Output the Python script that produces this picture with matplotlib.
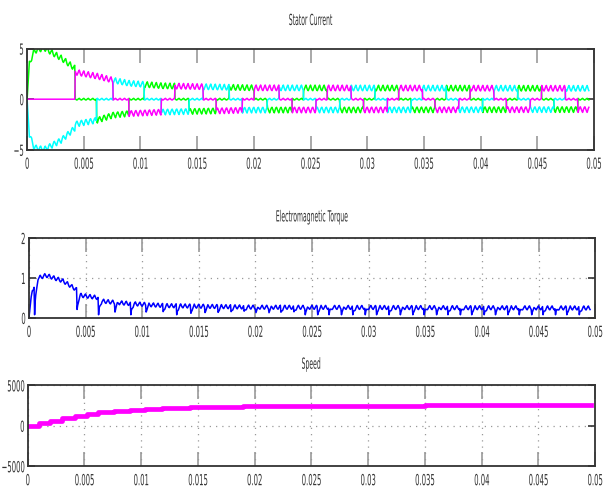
import matplotlib
matplotlib.use("Agg")
import matplotlib.pyplot as plt
import numpy as np
from matplotlib.patheffects import AbstractPathEffect
from matplotlib.transforms import Affine2D

plt.rcParams['font.family'] = ['DejaVu Sans']

# commutation instants (s)
comm_t = [0.0, 0.00423, 0.00615, 0.00758, 0.00900, 0.01032, 0.01182, 0.01305,
          0.01429, 0.01552, 0.01667, 0.01781, 0.01896, 0.02002, 0.02116, 0.02222,
          0.02337, 0.0244, 0.0255, 0.0265, 0.0276, 0.0286, 0.0297, 0.0307,
          0.0318, 0.0328, 0.0339, 0.0349, 0.0360, 0.0370, 0.0381, 0.0391,
          0.0402, 0.0412, 0.0423, 0.0433, 0.0444, 0.0454, 0.0465, 0.0475,
          0.0486, 0.0496]
# conducting phases per segment: (positive phase, negative phase); 0=A 1=B 2=C
phase_seq = [(0, 2), (1, 2), (1, 0), (2, 0), (2, 1), (0, 1)]

# current envelope (A)
env_t = [0.0, 0.0002, 0.0006, 0.0015, 0.0030, 0.0042, 0.00425, 0.0062, 0.0076,
         0.0090, 0.0120, 0.0200, 0.0500]
env_top = [0.0, 3.2, 4.5, 4.8, 3.8, 2.8, 2.4, 2.0, 1.6, 1.3, 1.05, 0.85, 0.8]
env_bot = [0.0, -3.2, -4.5, -4.7, -3.8, -2.6, -2.2, -1.8, -1.3, -1.15, -1.0, -0.8, -0.75]
# chopping ripple, one sample every 0.05 ms
ripple = [0.0, 0.15, 0.30, 0.45, 0.55, 0.35, 0.18, 0.05]
sample_dt = 0.00005

# electromagnetic torque envelope (N.m) and dip depth at commutations
torque_t = [0.0, 0.0003, 0.0008, 0.0015, 0.0030, 0.0042, 0.00425, 0.0061, 0.00625,
            0.0076, 0.0090, 0.0120, 0.0200, 0.0500]
torque_v = [0.0, 0.65, 0.95, 1.02, 0.88, 0.66, 0.53, 0.46, 0.38, 0.34, 0.31, 0.26, 0.22, 0.2]
torque_dip = 0.08
dip_width = 0.0003

# rotor speed (rpm), stair trace
speed_t = [0.0, 0.001, 0.002, 0.003, 0.0042, 0.0052, 0.0062, 0.0076, 0.0090, 0.0103,
           0.0118, 0.0143, 0.0167, 0.0190, 0.0234, 0.0350, 0.0496]
speed_v = [0, 300, 650, 950, 1250, 1450, 1650, 1800, 1950, 2080, 2180, 2270, 2340,
           2400, 2470, 2620, 2620]

xticks = [0, 0.005, 0.01, 0.015, 0.02, 0.025, 0.03, 0.035, 0.04, 0.045, 0.05]
xticklabels = ['0', '0.005', '0.01', '0.015', '0.02', '0.025', '0.03', '0.035',
               '0.04', '0.045', '0.05']


class Squeeze(AbstractPathEffect):
    # narrow the glyphs horizontally, like the resized MATLAB export
    def __init__(self, sx=0.45, anchor='center'):
        super().__init__()
        self.sx = sx
        self.anchor = anchor

    def draw_path(self, renderer, gc, tpath, affine, rgbFace=None):
        ext = tpath.get_extents(affine)
        cx = ext.x1 if self.anchor == 'right' else (ext.x0 + ext.x1) / 2
        tr = affine + Affine2D().translate(-cx, 0).scale(self.sx, 1).translate(cx, 0)
        renderer.draw_path(gc, tpath, tr, rgbFace)


# build the sampled traces
t = np.arange(0, comm_t[-1], sample_dt)
rip = np.array(ripple)[np.arange(len(t)) % len(ripple)]
top = np.interp(t, env_t, env_top)
bot = np.interp(t, env_t, env_bot)
seg = np.searchsorted(comm_t, t, side='right') - 1
currents = np.zeros((3, len(t)))
for k in range(len(t)):
    pos, neg = phase_seq[seg[k] % 6]
    for p in range(3):
        if p == pos:
            currents[p, k] = top[k] + rip[k]
        elif p == neg:
            currents[p, k] = bot[k] - rip[k]
        else:
            currents[p, k] = 0.3 * rip[k] - 0.08 if t[k] > comm_t[1] else 0.0

torque = np.interp(t, torque_t, torque_v) + 0.18 * rip
for tc in comm_t[1:-1] + [0.0005]:
    m = (t >= tc) & (t < tc + dip_width)
    frac = (t[m] - tc) / dip_width
    torque[m] = torque_dip + (torque[m] - torque_dip) * np.sqrt(frac)

fig = plt.figure(figsize=(6.03, 4.96), dpi=100)
ax1 = fig.add_axes([0.045, 0.698, 0.940, 0.204])
ax2 = fig.add_axes([0.048, 0.359, 0.939, 0.161])
ax3 = fig.add_axes([0.046, 0.060, 0.941, 0.163])

colors = ['#00ff00', '#ff00ff', '#00ffff']
for p in [0, 2, 1]:
    ax1.plot(t, currents[p], color=colors[p], lw=1.1)
ax2.plot(t, torque, color='#0000ff', lw=1.1)
ax3.plot(speed_t, speed_v, color='#ff00ff', lw=3.4, drawstyle='steps-post')

ax1.set_ylim(-5, 5)
ax1.set_yticks([-5, 0, 5])
ax2.set_ylim(0, 2)
ax2.set_yticks([0, 1, 2])
ax3.set_ylim(-5000, 5000)
ax3.set_yticks([-5000, 0, 5000])

titles = ['Stator Current', 'Electromagnetic Torque', 'Speed']
pads = [17, 12, 12]
for ax, title, pad in zip([ax1, ax2, ax3], titles, pads):
    ax.set_xlim(0, 0.05)
    ax.set_xticks(xticks)
    ax.set_xticklabels(xticklabels)
    ttl = ax.set_title(title, fontsize=11, color='#333333', pad=pad)
    ttl.set_path_effects([Squeeze(0.4)])
    ax.tick_params(axis='x', direction='in', length=10, width=1.2, color='#999999',
                   top=True, labelsize=11, labelcolor='#333333', pad=5)
    ax.tick_params(axis='y', direction='in', length=5, width=1.2, color='#333333',
                   right=True, labelsize=11, labelcolor='#333333', pad=2)
    for lbl in ax.get_xticklabels():
        lbl.set_path_effects([Squeeze(0.45)])
    for lbl in ax.get_yticklabels():
        lbl.set_path_effects([Squeeze(0.45, 'right')])
    for s in ax.spines.values():
        s.set_color('#333333')
        s.set_linewidth(1.3)

for ax in [ax2, ax3]:
    ax.grid(True, color='#999999', lw=0.9, linestyle=(0, (1, 4)))
    ax.set_axisbelow(True)

fig.savefig('out.png', dpi=100, facecolor='white')
